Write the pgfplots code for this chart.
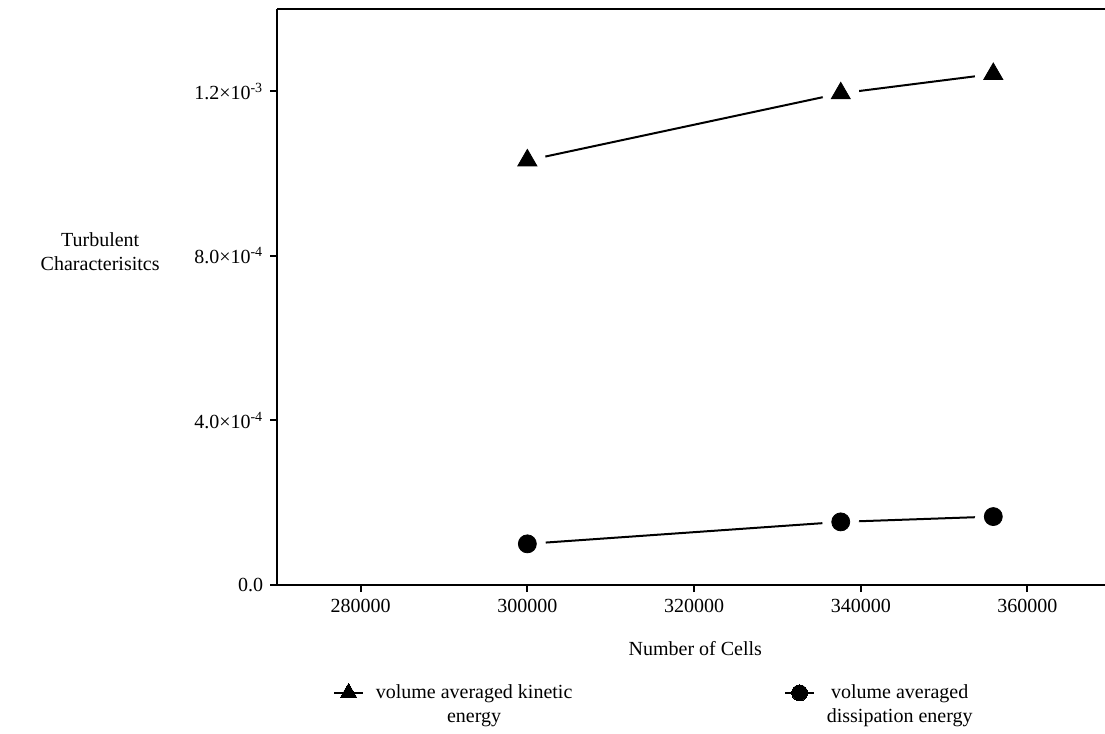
\documentclass[border=0pt]{standalone}
\usepackage{pgfplots}
\pgfplotsset{compat=1.18}
\usepackage{fontspec}
\setmainfont{Liberation Serif}

% Volume-averaged turbulence quantities against mesh size
\pgfplotstableread{
cells     k
300000    1.032e-3
337600    1.195e-3
355900    1.242e-3
}\kinetic
\pgfplotstableread{
cells     eps
300000    1.00e-4
337600    1.534e-4
355900    1.663e-4
}\dissipation

\begin{document}
\fontsize{10}{12}\selectfont
\begin{tikzpicture}
\useasboundingbox (-138.65pt,-74.5pt) rectangle (413.85pt,292.5pt);
\begin{axis}[
  at={(0,0)}, anchor=south west,
  scale only axis,
  width=413.85pt, height=288pt,
  xmin=270000, xmax=369300,
  ymin=0, ymax=1.4e-3,
  axis x line=box, axis y line=left,
  x axis line style={-}, y axis line style={-},
  axis line style={line width=1pt, black},
  xtick pos=bottom,
  tick align=outside,
  major tick length=3.5pt,
  tick style={line width=1pt, black},
  xtick={280000,300000,320000,340000,360000},
  xticklabels={280000,300000,320000,340000,360000},
  ytick={0,4e-4,8e-4,1.2e-3},
  yticklabels={0.0,
    4.0×10\textsuperscript{-4},
    8.0×10\textsuperscript{-4},
    1.2×10\textsuperscript{-3}},
  scaled x ticks=false, scaled y ticks=false,
  ticklabel style={font=\fontsize{10}{12}\selectfont},
  xlabel={Number of Cells},
  xlabel style={at={(axis description cs:0.505,-0.11)}, anchor=center},
  ylabel={Turbulent\\Characterisitcs},
  ylabel style={rotate=-90, align=center, at={(axis description cs:-0.214,0.578)}, anchor=center},
  legend columns=2,
  legend style={draw=none, at={(axis description cs:0.06,-0.158)}, anchor=north west,
    cells={align=center, anchor=west},
    /tikz/every odd column/.append style={column sep=4pt},
    /tikz/every even column/.append style={column sep=104pt},
    font=\fontsize{10}{12}\selectfont},
  legend image code/.code={
    \draw[line width=1pt] (-0.05cm,6pt) -- (0.45cm,6pt);
    \draw[#1, line width=0pt] plot coordinates {(0.2cm,6pt)};
  },
]
% connecting lines
\addplot[black, line width=1pt, no marks, forget plot] table[x=cells, y=k] {\kinetic};
\addplot[black, line width=1pt, no marks, forget plot] table[x=cells, y=eps] {\dissipation};
% white halos leave a gap between each line and its markers
\addplot[only marks, mark=*, mark size=9pt, white, forget plot] table[x=cells, y=k] {\kinetic};
\addplot[only marks, mark=*, mark size=9pt, white, forget plot] table[x=cells, y=eps] {\dissipation};
% markers
\addplot[only marks, mark=triangle*, mark size=5.5pt, black, forget plot] table[x=cells, y=k] {\kinetic};
\addplot[only marks, mark=*, mark size=4.5pt, black, forget plot] table[x=cells, y=eps] {\dissipation};
\addlegendimage{only marks, mark=triangle*, mark size=4.8pt, black}
\addlegendentry{volume averaged kinetic\\energy}
\addlegendimage{only marks, mark=*, mark size=4pt, black}
\addlegendentry{volume averaged\\dissipation energy}
\end{axis}
\end{tikzpicture}
\end{document}
